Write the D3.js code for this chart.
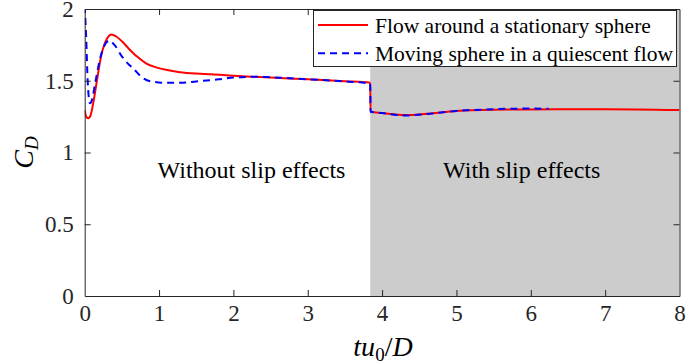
<!DOCTYPE html>
<html>
<head>
<meta charset="utf-8">
<script src="https://cdn.jsdelivr.net/npm/d3@7"></script>
<style>
  body { margin: 0; background: #fff; }
</style>
</head>
<body>
<svg width="686" height="364"></svg>
<script>
// stationary sphere, flow around it (red solid)
const redT = [0, 0.02, 0.05, 0.08, 0.12, 0.17, 0.22, 0.27, 0.32, 0.36, 0.42, 0.5, 0.6, 0.7, 0.83, 0.95, 1.06, 1.28, 1.5, 1.7, 2.0, 2.5, 3.0, 3.5, 3.84,
              3.845, 4.0, 4.31, 4.6, 5.0, 5.5, 6.0, 7.0, 8.0];
const redCd = [1.296, 1.25, 1.238, 1.26, 1.36, 1.52, 1.67, 1.76, 1.81, 1.823, 1.81, 1.775, 1.72, 1.67, 1.62, 1.595, 1.58, 1.56, 1.55, 1.545, 1.535, 1.522, 1.51, 1.497, 1.486,
               1.284, 1.275, 1.261, 1.27, 1.29, 1.298, 1.30, 1.302, 1.296];
// moving sphere in quiescent flow (blue dashed)
const blueT = [0, 0.02, 0.04, 0.07, 0.1, 0.14, 0.2, 0.26, 0.33, 0.4, 0.5, 0.6, 0.65, 0.77, 0.9, 1.1, 1.28, 1.5, 1.8, 2.0, 2.3, 2.5, 3.0, 3.5, 3.84,
               3.845, 4.0, 4.31, 4.6, 5.0, 5.4, 5.72, 6.0, 6.24];
const blueCd = [2.02, 1.8, 1.5, 1.343, 1.37, 1.48, 1.64, 1.74, 1.779, 1.75, 1.67, 1.61, 1.587, 1.524, 1.495, 1.486, 1.486, 1.495, 1.51, 1.522, 1.528, 1.524, 1.51, 1.495, 1.48,
                1.284, 1.275, 1.258, 1.268, 1.29, 1.30, 1.305, 1.306, 1.305];

const slipStart = 3.84;
const xTicks = [0, 1, 2, 3, 4, 5, 6, 7, 8];
const yTicks = [0, 0.5, 1, 1.5, 2];
const legendLabels = ["Flow around a stationary sphere", "Moving sphere in a quiescent flow"];

const FONT = "Liberation Serif";
const svg = d3.select("svg");
const x = d3.scaleLinear().domain([0, 8]).range([84.7, 679.5]);
const y = d3.scaleLinear().domain([0, 2]).range([296, 9]);
const axisColor = "#262626";

// shaded slip region
svg.append("rect")
    .attr("x", x(slipStart)).attr("y", y(2))
    .attr("width", x(8) - x(slipStart)).attr("height", y(0) - y(2))
    .attr("fill", "#cccccc");

const line = d3.line().x(d => x(d[0])).y(d => y(d[1])).curve(d3.curveMonotoneX);

svg.append("defs").append("clipPath").attr("id", "clip")
    .append("rect").attr("x", x(0)).attr("y", y(2)).attr("width", x(8) - x(0)).attr("height", y(0) - y(2));

svg.append("path")
    .datum(d3.zip(redT, redCd))
    .attr("d", line)
    .attr("clip-path", "url(#clip)")
    .attr("fill", "none").attr("stroke", "#ff0000").attr("stroke-width", 2);

svg.append("path")
    .datum(d3.zip(blueT, blueCd))
    .attr("d", line)
    .attr("clip-path", "url(#clip)")
    .attr("fill", "none").attr("stroke", "#0000ff").attr("stroke-width", 2)
    .attr("stroke-dasharray", "7,5");

// region annotations
svg.append("text").attr("x", 251.5).attr("y", 178).attr("text-anchor", "middle")
    .attr("font-family", FONT).attr("font-size", 24).text("Without slip effects");
svg.append("text").attr("x", 521.7).attr("y", 178).attr("text-anchor", "middle")
    .attr("font-family", FONT).attr("font-size", 24).text("With slip effects");

// axes box with inward ticks on all sides
const axB = svg.append("g").attr("transform", `translate(0,${y(0)})`)
    .call(d3.axisBottom(x).tickValues(xTicks).tickSizeInner(-6).tickSizeOuter(0).tickPadding(9));
const axT = svg.append("g").attr("transform", `translate(0,${y(2)})`)
    .call(d3.axisTop(x).tickValues(xTicks).tickSizeInner(-6).tickSizeOuter(0).tickFormat(""));
const axL = svg.append("g").attr("transform", `translate(${x(0)},0)`)
    .call(d3.axisLeft(y).tickValues(yTicks).tickSizeInner(-6).tickSizeOuter(0).tickPadding(11).tickFormat(d3.format("~g")));
const axR = svg.append("g").attr("transform", `translate(${x(8)},0)`)
    .call(d3.axisRight(y).tickValues(yTicks).tickSizeInner(-6).tickSizeOuter(0).tickFormat(""));

[axB, axT, axL, axR].forEach(g => {
    g.attr("font-family", FONT).attr("font-size", 23);
    g.select(".domain").attr("stroke", axisColor).attr("stroke-width", 1);
    g.selectAll(".tick line").attr("stroke", axisColor);
    g.selectAll(".tick text").attr("fill", "#262626");
});
// hide first/last ticks overlapping the box
[axB, axT].forEach(g => g.selectAll(".tick line").filter(d => d === 0 || d === 8).remove());
[axL, axR].forEach(g => g.selectAll(".tick line").filter(d => d === 0 || d === 2).remove());

// axis labels
const xl = svg.append("text").attr("x", 383).attr("y", 356).attr("text-anchor", "middle")
    .attr("font-family", FONT).attr("font-size", 28);
xl.append("tspan").attr("font-style", "italic").text("tu");
xl.append("tspan").attr("dy", 5).attr("font-size", 19).text("0");
xl.append("tspan").attr("dy", -5).text("/");
xl.append("tspan").attr("font-style", "italic").text("D");

const yl = svg.append("text").attr("transform", `translate(33,${(y(0) + y(2)) / 2}) rotate(-90)`)
    .attr("text-anchor", "middle").attr("font-family", FONT).attr("font-size", 28);
yl.append("tspan").attr("font-style", "italic").text("C");
yl.append("tspan").attr("dy", 5).attr("font-size", 19).attr("font-style", "italic").text("D");

// legend
const lg = svg.append("g");
lg.append("rect").attr("x", 313.5).attr("y", 10.5).attr("width", 363).attr("height", 56)
    .attr("fill", "#fff").attr("stroke", axisColor).attr("stroke-width", 1);
const legendStyles = [{color: "#ff0000", dash: null}, {color: "#0000ff", dash: "7,5"}];
legendLabels.forEach((lab, i) => {
    const cy = 25 + i * 28.3;
    lg.append("line").attr("x1", 318).attr("x2", 368).attr("y1", cy).attr("y2", cy)
        .attr("stroke", legendStyles[i].color).attr("stroke-width", 2)
        .attr("stroke-dasharray", legendStyles[i].dash);
    lg.append("text").attr("x", 375).attr("y", cy + 8)
        .attr("font-family", FONT).attr("font-size", 21.5).text(lab);
});
</script>
</body>
</html>
